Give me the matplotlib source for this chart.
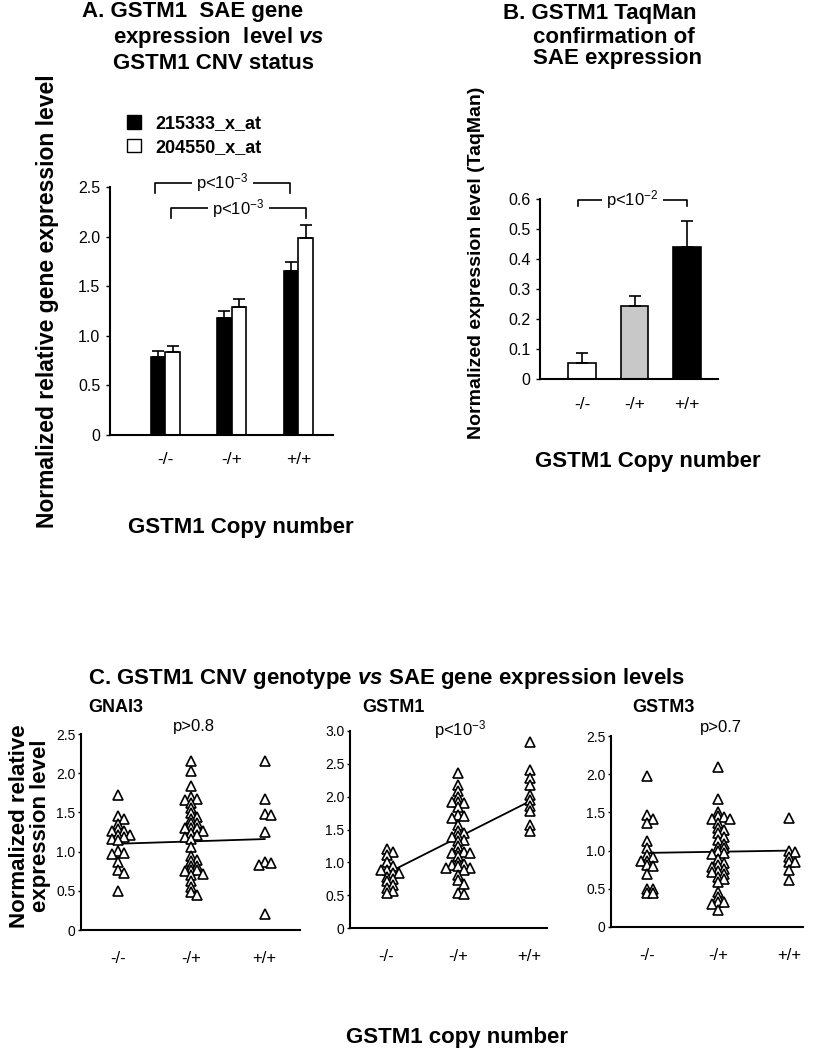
import numpy as np
import matplotlib
matplotlib.use('Agg')
import matplotlib.pyplot as plt
from matplotlib.patches import Patch

plt.rcParams['font.family'] = ['Liberation Sans', 'DejaVu Sans']
plt.rcParams['mathtext.fontset'] = 'custom'
plt.rcParams['mathtext.rm'] = 'Liberation Sans'
plt.rcParams['mathtext.it'] = 'Liberation Sans:italic:bold'
plt.rcParams['mathtext.bf'] = 'Liberation Sans:bold'

# ---- data ----
genotypes = ['-/-', '-/+', '+/+']

# panel A: two probesets
probe_names = ['215333_x_at', '204550_x_at']
probe1_mean = [0.79, 1.18, 1.65]
probe1_err = [0.06, 0.07, 0.09]
probe2_mean = [0.84, 1.29, 1.99]
probe2_err = [0.06, 0.08, 0.13]

# panel B: TaqMan
taqman_mean = [0.055, 0.242, 0.441]
taqman_err = [0.033, 0.033, 0.086]
taqman_colors = ['white', '#c8c8c8', 'black']

# panel C: individual subjects
gnai3_mm = [1.72, 1.45, 1.41, 1.35, 1.29, 1.26, 1.26, 1.21, 1.21, 1.18, 1.16, 1.15,
            1.01, 0.98, 0.97, 0.87, 0.76, 0.73, 0.50]
gnai3_mp = [2.15, 2.03, 1.84, 1.70, 1.67, 1.66, 1.62, 1.55, 1.49, 1.44, 1.42, 1.37,
            1.36, 1.30, 1.30, 1.30, 1.26, 1.24, 1.21, 1.19, 1.16, 1.06, 0.94, 0.89,
            0.88, 0.82, 0.82, 0.76, 0.76, 0.75, 0.72, 0.70, 0.62, 0.55, 0.48, 0.45]
gnai3_pp = [2.15, 1.67, 1.48, 1.47, 1.25, 0.87, 0.85, 0.83, 0.21]
gnai3_fit = [1.10, 1.16]

gstm1_mm = [1.21, 1.15, 1.11, 1.00, 0.94, 0.89, 0.88, 0.84, 0.83, 0.78, 0.75, 0.71,
            0.66, 0.61, 0.57, 0.54]
gstm1_mp = [2.36, 2.18, 2.09, 2.00, 1.92, 1.91, 1.92, 1.85, 1.72, 1.70, 1.68, 1.57,
            1.48, 1.44, 1.40, 1.38, 1.34, 1.32, 1.25, 1.16, 1.16, 1.14, 1.14, 1.09,
            1.01, 0.97, 0.96, 0.94, 0.91, 0.91, 0.89, 0.81, 0.73, 0.67, 0.54, 0.52]
gstm1_pp = [2.83, 2.41, 2.28, 2.18, 2.03, 1.95, 1.86, 1.78, 1.57, 1.48]
gstm1_fit = [0.83, 1.93]

gstm3_mm = [1.97, 1.46, 1.42, 1.36, 1.13, 1.03, 0.94, 0.92, 0.87, 0.87, 0.81, 0.80,
            0.70, 0.50, 0.50, 0.44, 0.44]
gstm3_mp = [2.09, 1.67, 1.51, 1.45, 1.44, 1.42, 1.42, 1.36, 1.30, 1.27, 1.23, 1.18,
            1.14, 1.09, 1.05, 1.03, 0.99, 0.97, 0.96, 0.89, 0.84, 0.81, 0.79, 0.76,
            0.73, 0.72, 0.70, 0.65, 0.63, 0.59, 0.46, 0.39, 0.33, 0.33, 0.30, 0.22]
gstm3_pp = [1.43, 1.00, 0.98, 0.92, 0.85, 0.85, 0.74, 0.61]
gstm3_fit = [0.97, 1.00]

W, H = 821, 1050
fig = plt.figure(figsize=(W / 100, H / 100), dpi=100)


def fx(x):
    return x / W


def fy(y):
    return 1 - y / H


def px_axes(l, t, r, b):
    return fig.add_axes([l / W, 1 - b / H, (r - l) / W, (b - t) / H])


def style(ax, ylim, yticks, xlim, ysize, xsize, xpad, ylen=3, ypad=4):
    for s in ['top', 'right']:
        ax.spines[s].set_visible(False)
    for s in ['left', 'bottom']:
        ax.spines[s].set_linewidth(1.5)
    ax.set_xlim(*xlim)
    ax.set_ylim(*ylim)
    ax.set_yticks(yticks)
    ax.set_yticklabels(['0' if t == 0 else f'{t:.1f}' for t in yticks], fontsize=ysize)
    ax.set_xticks(range(len(genotypes)))
    ax.set_xticklabels(genotypes, fontsize=xsize)
    ax.tick_params(axis='x', length=0, pad=xpad)
    ax.tick_params(axis='y', length=ylen, width=1, pad=ypad)


def bracket(ax, x1, x2, y, drop, label):
    ax.plot([x1, x1, x2, x2], [y - drop, y, y, y - drop], color='black', lw=1.2,
            clip_on=False)
    ax.text((x1 + x2) / 2, y, label, ha='center', va='center', fontsize=12,
            bbox=dict(facecolor='white', edgecolor='none', pad=3), clip_on=False)


# ---- panel A ----
axA = px_axes(110, 187, 333, 435)
x = np.arange(len(genotypes))
bw = 0.22
axA.bar(x - bw / 2, probe1_mean, bw, color='black', edgecolor='black', lw=1.2)
axA.bar(x + bw / 2, probe2_mean, bw, color='white', edgecolor='black', lw=1.2)
axA.errorbar(x - bw / 2, probe1_mean, yerr=[np.zeros(3), probe1_err], fmt='none',
             ecolor='black', elinewidth=1.2, capsize=4, capthick=1.2)
axA.errorbar(x + bw / 2, probe2_mean, yerr=[np.zeros(3), probe2_err], fmt='none',
             ecolor='black', elinewidth=1.2, capsize=4, capthick=1.2)
style(axA, (0, 2.5), [0, 0.5, 1.0, 1.5, 2.0, 2.5], (-0.83, 2.52), 11.5, 12.5, 12)
bracket(axA, -0.15, 1.87, 2.54, 0.10, r'p<10$^{-3}$')
bracket(axA, 0.08, 2.12, 2.285, 0.10, r'p<10$^{-3}$')
fig.legend([Patch(facecolor='black', edgecolor='black'),
            Patch(facecolor='white', edgecolor='black')], probe_names,
           loc='upper left', bbox_to_anchor=(fx(127), fy(115)), frameon=False,
           prop={'weight': 'bold', 'size': 13}, handlelength=0.75, handleheight=0.8,
           handletextpad=0.8, labelspacing=0.35, borderpad=0, borderaxespad=0)

fig.text(fx(82), fy(17), 'A. GSTM1  SAE gene', fontsize=16, weight='bold', va='baseline')
fig.text(fx(113), fy(43), r'expression  level $\mathit{vs}$', fontsize=16,
         weight='bold', va='baseline')
fig.text(fx(113), fy(69), 'GSTM1 CNV status', fontsize=16, weight='bold', va='baseline')
fig.text(fx(48), fy(301), 'Normalized relative gene expression level', fontsize=16.5,
         weight='bold', rotation=90, ha='center', va='center')
fig.text(fx(241), fy(527), 'GSTM1 Copy number', fontsize=16, weight='bold',
         ha='center', va='center')

# ---- panel B ----
axB = px_axes(540, 199, 718, 379)
axB.bar(x, taqman_mean, 0.52, color=taqman_colors, edgecolor='black', lw=1.2)
axB.errorbar(x, taqman_mean, yerr=[np.zeros(3), taqman_err], fmt='none',
             ecolor='black', elinewidth=1.2, capsize=4, capthick=1.2)
style(axB, (0, 0.6), [0, 0.1, 0.2, 0.3, 0.4, 0.5, 0.6], (-0.8, 2.59), 11.5, 12.5, 13)
bracket(axB, -0.07, 2.0, 0.597, 0.022, r'p<10$^{-2}$')

fig.text(fx(503), fy(19), 'B. GSTM1 TaqMan', fontsize=16, weight='bold', va='baseline')
fig.text(fx(533), fy(43), 'confirmation of', fontsize=16, weight='bold', va='baseline')
fig.text(fx(533), fy(64), 'SAE expression', fontsize=16, weight='bold', va='baseline')
fig.text(fx(476), fy(263), 'Normalized expression level (TaqMan)', fontsize=14,
         weight='bold', rotation=90, ha='center', va='center')
fig.text(fx(648), fy(462), 'GSTM1 Copy number', fontsize=16, weight='bold',
         ha='center', va='center')


# ---- panel C ----
def swarm(ax, pos, values, step=6.0, h=4.0):
    # simple beeswarm: spread points sideways when they would overlap
    ppx = ax.bbox.width / (ax.get_xlim()[1] - ax.get_xlim()[0])
    ppy = ax.bbox.height / (ax.get_ylim()[1] - ax.get_ylim()[0])
    placed = []
    xs = []
    for v in values:
        yp = v * ppy
        for k in [0, 1, -1, 2, -2, 3, -3, 4, -4]:
            dx = k * step
            if all(abs(dx - px) >= step * 0.99 or abs(yp - py) >= h for px, py in placed):
                break
        placed.append((dx, yp))
        xs.append(pos + dx / ppx)
    ax.plot(xs, values, linestyle='none', marker='^', markersize=6.5,
            markerfacecolor='white', markeredgecolor='black', markeredgewidth=1.2,
            clip_on=False, zorder=3)


panels = [
    ('GNAI3', (81, 734, 300, 930), (0, 2.5), [0, 0.5, 1.0, 1.5, 2.0, 2.5], (-0.5, 2.48),
     [gnai3_mm, gnai3_mp, gnai3_pp], gnai3_fit, 'p>0.8', 2.6, 88),
    ('GSTM1', (350, 731, 547, 928), (0, 3.0), [0, 0.5, 1.0, 1.5, 2.0, 2.5, 3.0],
     (-0.51, 2.24), [gstm1_mm, gstm1_mp, gstm1_pp], gstm1_fit, r'p<10$^{-3}$', 3.02, 362),
    ('GSTM3', (611, 736, 803, 927), (0, 2.5), [0, 0.5, 1.0, 1.5, 2.0, 2.5], (-0.51, 2.19),
     [gstm3_mm, gstm3_mp, gstm3_pp], gstm3_fit, 'p>0.7', 2.61, 632),
]
for name, box, ylim, yticks, xlim, groups, fit, ptxt, py, tx in panels:
    ax = px_axes(*box)
    style(ax, ylim, yticks, xlim, 10, 12, 15, ylen=2.5, ypad=1.5)
    for i, vals in enumerate(groups):
        swarm(ax, i, vals)
    ax.plot([0, 2], fit, color='black', lw=1.3, zorder=2)
    ax.text(1.03, py, ptxt, ha='center', va='center', fontsize=12, clip_on=False)
    fig.text(fx(tx), fy(712), name, fontsize=13, weight='bold', va='baseline')

fig.text(fx(88), fy(684), r'C. GSTM1 CNV genotype $\mathit{vs}$ SAE gene expression levels',
         fontsize=16, weight='bold', va='baseline')
fig.text(fx(30), fy(826), 'Normalized relative\nexpression level', fontsize=16,
         weight='bold', rotation=90, ha='center', va='center', linespacing=1.05)
fig.text(fx(457), fy(1038), 'GSTM1 copy number', fontsize=16, weight='bold',
         ha='center', va='center')

fig.savefig('out.png', dpi=100)
